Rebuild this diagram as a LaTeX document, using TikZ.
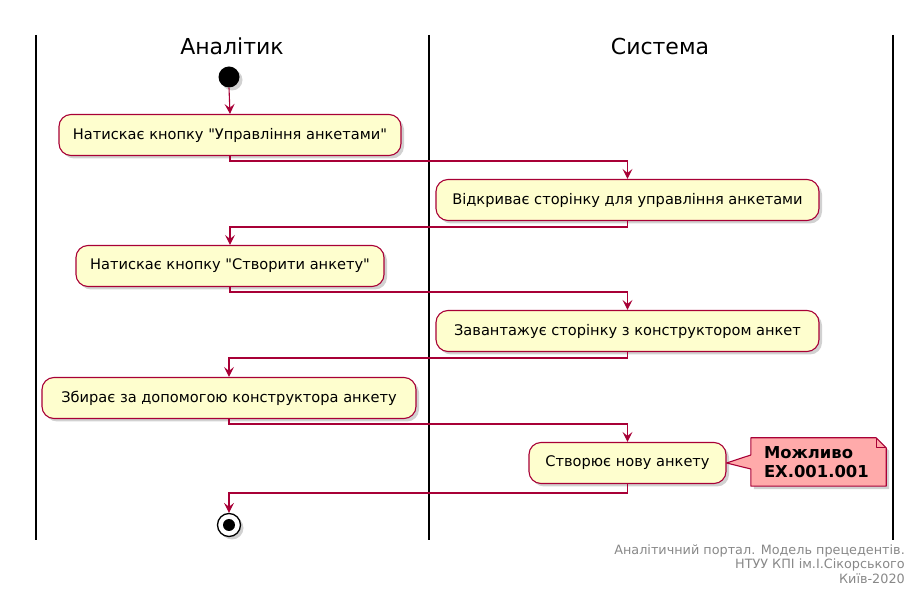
\documentclass[tikz,border=0pt]{standalone}
\usepackage{fontspec}
\setmainfont{DejaVu Sans}[Ligatures=TeXOff]
\usetikzlibrary{arrows.meta,shadows,calc}
\definecolor{boxfill}{HTML}{FEFECE}
\definecolor{boxline}{HTML}{A80036}
\definecolor{notefill}{HTML}{FFAAAA}
\definecolor{footgrey}{HTML}{888888}
\tikzset{
  shd/.style={drop shadow={opacity=0.3,shadow xshift=3pt,shadow yshift=-3pt,fill=black!60}},
  act/.style={draw=boxline,fill=boxfill,line width=1.1pt,rounded corners=12pt,minimum height=41pt,
    font=\fontsize{14.6}{17}\selectfont,inner sep=0pt,shd},
  flow/.style={draw=boxline,line width=1.1pt,-{Stealth[length=10pt,width=10pt,inset=4pt]}},
  lane/.style={draw=black,line width=1.8pt},
  lanetitle/.style={font=\fontsize{22}{26}\selectfont,inner sep=0pt},
  foot/.style={font=\fontsize{12.8}{14}\selectfont,text=footgrey,inner sep=0pt,anchor=east}
}
\begin{document}
\begin{tikzpicture}[x=1pt,y=-1pt]
\path[use as bounding box] (0,0) rectangle (914,609);
% lanes
\coordinate (l1t) at (36,35); \coordinate (l1b) at (36,540);
\coordinate (l2t) at (429,35); \coordinate (l2b) at (429,540);
\coordinate (l3t) at (893,35); \coordinate (l3b) at (893,540);
\draw[lane] (l1t) -- (l1b);
\draw[lane] (l2t) -- (l2b);
\draw[lane] (l3t) -- (l3b);
\node[lanetitle] (t1) at (232,46) {Аналітик};
\node[lanetitle] (t2) at (660,46) {Система};
% start
\node[circle,fill=black,minimum size=21pt,inner sep=0pt,shd] (start) at (229,77) {};
% activities
\node[act,minimum width=342pt] (a1) at (230,135) {Натискає кнопку "Управління анкетами"};
\node[act,minimum width=383pt] (s1) at (627.5,200) {Відкриває сторінку для управління анкетами};
\node[act,minimum width=308pt] (a2) at (230,266) {Натискає кнопку "Створити анкету"};
\node[act,minimum width=383pt] (s2) at (627.5,331) {Завантажує сторінку з конструктором анкет};
\node[act,minimum width=374pt] (a3) at (229,398) {Збирає за допомогою конструктора анкету};
\node[act,minimum width=197pt] (s3) at (627.5,463) {Створює нову анкету};
% end
\node[circle,draw=black,fill=white,line width=1.3pt,minimum size=23pt,inner sep=0pt,shd] (stop) at (229,525) {};
\node[circle,fill=black,minimum size=12pt,inner sep=0pt] (stopin) at (stop.center) {};
% note
\node[minimum width=135pt,minimum height=48pt,inner sep=0pt] (note) at (818.5,462) {};
\fill[black!60,opacity=0.3] ($(note.north west)+(3,3)$) -- ($(note.north east)+(-7,3)$) -- ($(note.north east)+(3,13)$) -- ($(note.south east)+(3,3)$) -- ($(note.south west)+(3,3)$) -- cycle;
\draw[boxline,fill=notefill,line width=1.1pt,line join=round]
  (note.north west) -- ($(note.north east)+(-10,0)$) -- ($(note.north east)+(0,10)$) -- (note.south east) -- (note.south west)
  -- ($(note.west)+(0,7)$) -- (s3.east) -- ($(note.west)+(0,-7)$) -- cycle;
\draw[boxline,line width=1.1pt,line join=round] ($(note.north east)+(-10,0)$) -- ($(note.north east)+(-10,10)$) -- ($(note.north east)+(0,10)$);
\node[anchor=west,align=left,font=\bfseries\fontsize{16.4}{19}\selectfont,inner sep=0pt] (notetext) at ($(note.west)+(13,0)$) {Можливо\\EX.001.001};
% flows
\draw[flow] (start.south) -- (a1.north);
\draw[flow] (a1.south) -- ++(0,5) -| (s1.north);
\draw[flow] (s1.south) -- ++(0,6) -| (a2.north);
\draw[flow] (a2.south) -- ++(0,5) -| (s2.north);
\draw[flow] (s2.south) -- ++(0,6) -| (a3.north);
\draw[flow] (a3.south) -- ++(0,5) -| (s3.north);
\draw[flow] (s3.south) -- ++(0,9) -| (stop.north);
% footer
\node[foot] (f1) at (905,551) {Аналітичний портал. Модель прецедентів.};
\node[foot] (f2) at (905,565) {НТУУ КПІ ім.І.Сікорського};
\node[foot] (f3) at (905,579) {Київ-2020};
\end{tikzpicture}
\end{document}
